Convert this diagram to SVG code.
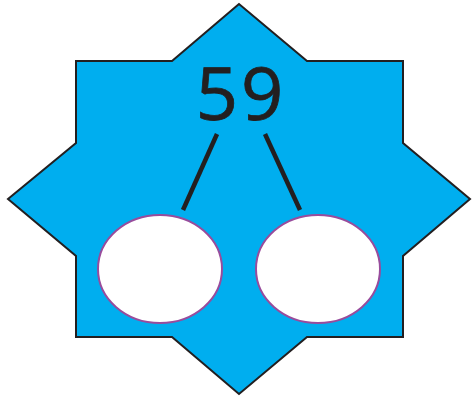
<svg xmlns="http://www.w3.org/2000/svg" width="472" height="399" viewBox="0 0 472 399">
<style>
.star{fill:#00aeef;stroke:#231f20;stroke-width:2;stroke-linejoin:miter}
.oval{fill:#fff;stroke:#984c9c;stroke-width:2}
.conn{stroke:#231f20;stroke-width:4.5;fill:none}
.num{font-family:"Open Sans","Liberation Sans",sans-serif;font-size:74px;fill:#231f20;letter-spacing:3px;stroke:#231f20;stroke-width:0.8}
</style>
<rect width="472" height="399" fill="#fff"/>
<g id="star">
<polygon class="star" points="239,4 172,61 76,61 76,143 8,199 76,256 76,337 172,337 239,394 307,337 403,337 403,256 470,199 403,143 403,61 307,61"/>
</g>
<g id="total"><text class="num" x="241" y="120" text-anchor="middle">59</text></g>
<g id="connectors">
<line class="conn" x1="217" y1="134" x2="183" y2="210"/>
<line class="conn" x1="265" y1="134" x2="300" y2="210"/>
</g>
<g id="part-left"><ellipse class="oval" cx="160" cy="269" rx="62" ry="54"/></g>
<g id="part-right"><ellipse class="oval" cx="318" cy="269" rx="62" ry="54"/></g>
</svg>
